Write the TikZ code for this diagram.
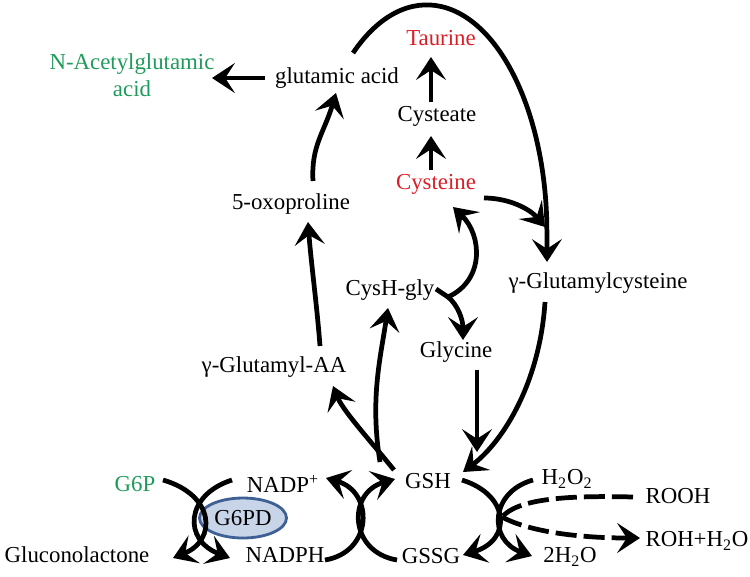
\documentclass[tikz,border=0pt]{standalone}
\usepackage{fontspec}
\setmainfont{Liberation Serif}
\usetikzlibrary{arrows.meta,calc,shapes.geometric}

\definecolor{rojo}{RGB}{218,30,38}
\definecolor{verde}{RGB}{30,155,90}
\definecolor{azulfondo}{RGB}{200,212,232}
\definecolor{azulborde}{RGB}{62,96,148}

\begin{document}
\begin{tikzpicture}[
  x=0.02cm, y=-0.02cm,
  lbl/.style={inner sep=2pt, font=\fontsize{13}{15.5}\selectfont},
  enz/.style={ellipse, draw=azulborde, fill=azulfondo, line width=1.6pt, inner sep=0pt,
    minimum width=1.74cm, minimum height=0.8cm, font=\fontsize{13}{15.5}\selectfont},
  rxn/.style={line width=2.7pt},
  arr/.style={line width=2.7pt, -{Stealth[length=13pt,width=17pt,inset=5.5pt]}},
  dsh/.style={line width=2.7pt, dash pattern=on 12pt off 4pt}
]
  \useasboundingbox (0,0) rectangle (750,576);

  % Nodos
  \foreach \nm/\px/\py/\txt in {
      glu/337/78/glutamic acid, cyt/437/116/Cysteate, oxo/291/204/5-oxoproline,
      ggc/598/283/γ-Glutamylcysteine, cg/390/290/CysH-gly, gly/456/352/Glycine,
      gaa/274/367/γ-Glutamyl-AA, nadp/283/484/NADP\textsuperscript{+},
      gsh/428/481/GSH, hoo/567/479/H\textsubscript{2}O\textsubscript{2},
      rooh/678/496/ROOH, glc/77/555/Gluconolactone, nadph/285/555/NADPH,
      gssg/431/556/GSSG, hho/570/557/2H\textsubscript{2}O, roh/697/541/ROH+H\textsubscript{2}O} {
    \node[lbl] (\nm) at (\px,\py) {\txt};
  }

  % Nodos de color
  \node[lbl, text=rojo] (tau) at (441,38) {Taurine};
  \node[lbl, text=rojo] (cys) at (436,184) {Cysteine};
  \node[lbl, text=verde, align=center] (nag) at (132,75) {N-Acetylglutamic\\acid};
  \node[lbl, text=verde] (g6p) at (135,484) {G6P};
  \node[enz] (g6pd) at (243,518) {G6PD};

  % Ciclo gamma-glutamilo
  \draw[arr] ($(glu)+(-72,0)$) -- ($(nag)+(80,3)$);
  \draw[arr] ($(oxo)+(22,-23)$) .. controls +(-2,-35) and +(-12,40) .. ($(glu)+(-1,15)$);
  \draw[arr] ($(gaa)+(46,-21)$) .. controls +(-3,-40) and +(3,40) .. ($(oxo)+(17,18)$);
  \draw[arr] ($(gsh)+(-34,-11)$) .. controls +(-20,-25) and +(10,25) .. ($(gaa)+(59,19)$);
  \draw[arr] ($(gsh)+(-48,-19)$) .. controls +(-10,-62) and +(-8,52) .. ($(cg)+(-2,18)$);
  \draw[arr] ($(cys)+(-5,-14)$) -- ($(cyt)+(-6,20)$);
  \draw[arr] ($(cyt)+(-6,-14)$) -- ($(tau)+(-10,19)$);
  \draw[arr] ($(glu)+(16,-25)$) arc[start angle=232, end angle=360, x radius=120, y radius=227]
    -- ($(ggc)+(-51,-21)$);
  \draw[arr] ($(cys)+(48,14)$) .. controls +(25,0) and +(-15,-18) .. ($(ggc)+(-53,-56)$);

  % CysH-gly
  \coordinate (jn) at ($(cg)+(58,7)$);
  \draw[rxn] ($(cg)+(46,-1)$) -- (jn);
  \draw[arr] (jn) .. controls +(37,-17) and +(29,28) .. ($(cys)+(17,23)$);
  \draw[arr] (jn) .. controls +(10,8) and +(0,-20) .. ($(gly)+(7,-12)$);
  \draw[arr] ($(gly)+(21,18)$) -- ($(gsh)+(49,-29)$);
  \draw[arr] ($(ggc)+(-53,19)$) .. controls +(-5,78) and +(42,-32) .. ($(gsh)+(35,-9)$);

  % Reacciones acopladas
  \draw[arr] ($(g6p)+(28,-4)$) .. controls +(52,15) and +(44,-18) .. ($(glc)+(96,3)$);
  \draw[arr] ($(nadp)+(-51,-4)$) .. controls +(-47,15) and +(-47,-18) .. ($(nadph)+(-55,3)$);
  \draw[arr] ($(nadph)+(40,5)$) .. controls +(48,-8) and +(48,14) .. ($(nadp)+(43,-6)$);
  \draw[arr] ($(gssg)+(-34,4)$) .. controls +(-48,-8) and +(-48,14) .. ($(gsh)+(-33,-2)$);
  \draw[arr] ($(gsh)+(34,-1)$) .. controls +(48,15) and +(49,-15) .. ($(gssg)+(32,-1)$);
  \draw[arr] ($(hoo)+(-34,1)$) .. controls +(-43,12) and +(-44,-16) .. ($(hho)+(-38,-1)$);

  % Peroxidos
  \coordinate (xr) at (502,517);
  \draw[dsh] ($(rooh)+(-45,1)$) .. controls +(-73,-2) and +(15,-17) .. (xr);
  \draw[dsh, arr] (xr) .. controls +(28,15) and +(-60,0) .. ($(roh)+(-57,-3)$);
\end{tikzpicture}
\end{document}
